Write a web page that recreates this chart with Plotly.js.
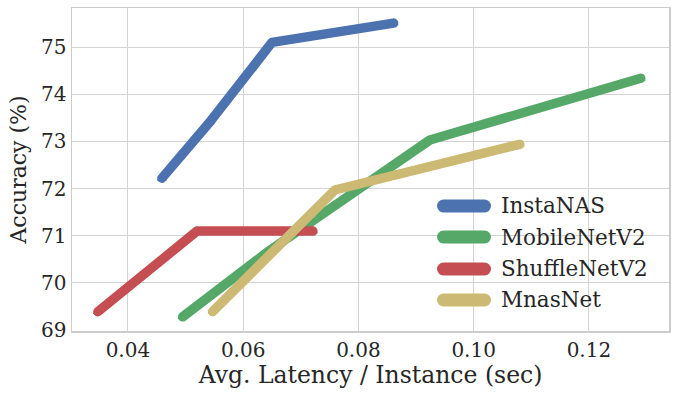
<!DOCTYPE html>
<html>
<head>
<meta charset="utf-8">
<script src="https://cdn.plot.ly/plotly-3.0.1.min.js"></script>
<style>
  html, body { margin: 0; padding: 0; background: #fff; }
  #chart { width: 677px; height: 397px; }
  .scatterlayer .js-line, .shapelayer path { stroke-linecap: round; stroke-linejoin: round; }
</style>
</head>
<body>
<div id="chart"></div>
<script>
// Accuracy vs latency, one series per model family
const seriesNames = ['InstaNAS', 'MobileNetV2', 'ShuffleNetV2', 'MnasNet'];
const colors = ['#4C72B0', '#55A868', '#C44E52', '#CCB974'];

const instaLatency = [0.0459, 0.0542, 0.0650, 0.0861];
const instaAcc     = [72.22, 73.41, 75.10, 75.51];

const mobileLatency = [0.0495, 0.0645, 0.0924, 0.1290];
const mobileAcc     = [69.28, 70.68, 73.03, 74.34];

const shuffleLatency = [0.0348, 0.0520, 0.0721];
const shuffleAcc     = [69.39, 71.10, 71.10];

const mnasLatency = [0.0547, 0.0759, 0.1080];
const mnasAcc     = [69.39, 71.97, 72.94];

const xs = [instaLatency, mobileLatency, shuffleLatency, mnasLatency];
const ys = [instaAcc, mobileAcc, shuffleAcc, mnasAcc];

const font = 'DejaVu Serif, serif';
const ink = '#262626';

const traces = seriesNames.map((name, i) => ({
  x: xs[i],
  y: ys[i],
  name: name,
  type: 'scatter',
  mode: 'lines+markers',
  line: {color: colors[i], width: 9.5},
  marker: {symbol: 'triangle-up', size: 9, color: colors[i]},
  showlegend: false
}));

// hand-placed legend (long thick swatches like the original)
const legendY = [0.387, 0.291, 0.192, 0.096];
const shapes = [];
const annotations = [];
seriesNames.forEach((name, i) => {
  shapes.push({
    type: 'line', xref: 'paper', yref: 'paper',
    x0: 0.6223, x1: 0.691, y0: legendY[i], y1: legendY[i],
    line: {color: colors[i], width: 13}
  });
  annotations.push({
    xref: 'paper', yref: 'paper', x: 0.716, y: legendY[i],
    xanchor: 'left', yanchor: 'middle', showarrow: false,
    text: name, font: {family: font, size: 21.5, color: ink}
  });
});

const axisCommon = {
  showgrid: true, gridcolor: '#d3d3d3', gridwidth: 1,
  showline: true, mirror: true, linecolor: '#cccccc', linewidth: 1.5,
  zeroline: false, ticks: '',
  tickfont: {family: font, size: 20, color: ink}
};

const layout = {
  width: 677, height: 397,
  margin: {l: 72, r: 8, t: 8, b: 66},
  paper_bgcolor: '#fff', plot_bgcolor: '#fff',
  xaxis: Object.assign({}, axisCommon, {
    range: [0.0303, 0.1339], dtick: 0.02, tick0: 0, tickformat: '.2f',
    title: {text: 'Avg. Latency / Instance (sec)', font: {family: font, size: 23.5, color: ink}, standoff: 5},
    automargin: false
  }),
  yaxis: Object.assign({}, axisCommon, {
    range: [68.98, 75.83], dtick: 1,
    title: {text: 'Accuracy (%)', font: {family: font, size: 22, color: ink}, standoff: 8},
    automargin: false
  }),
  shapes: shapes,
  annotations: annotations,
  showlegend: false
};

Plotly.newPlot('chart', traces, layout, {displayModeBar: false, staticPlot: true});
</script>
</body>
</html>
